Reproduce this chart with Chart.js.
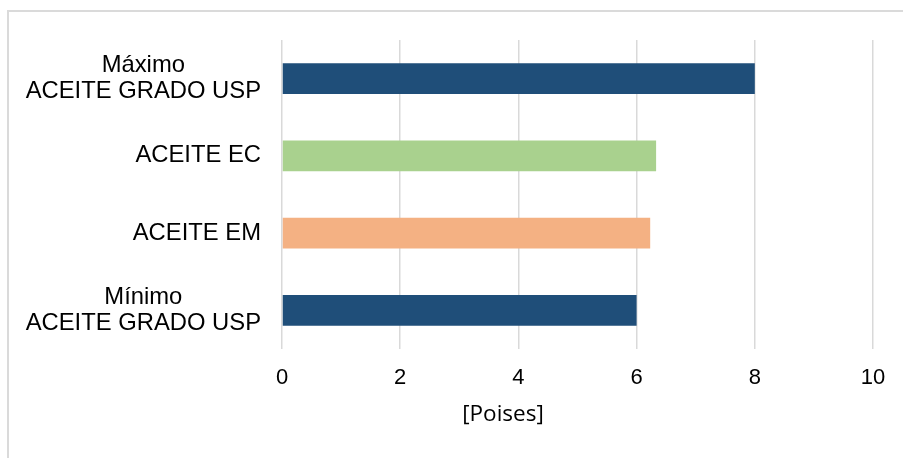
<!DOCTYPE html>
<html>
<head>
<meta charset="utf-8">
<script src="https://cdn.jsdelivr.net/npm/chart.js@4"></script>
<style>
  html, body { margin: 0; padding: 0; background: #fff; overflow: hidden; }
  #wrap { position: relative; width: 903px; height: 458px; }
  #frame { position: absolute; left: 7px; top: 10px; width: 1200px; height: 1200px;
           border-left: 2px solid #dadada; border-top: 2px solid #dadada; box-sizing: border-box; }
  canvas { position: absolute; left: 0; top: 0; }
</style>
</head>
<body>
<div id="wrap">
  <div id="frame"></div>
  <canvas id="c" width="903" height="458"></canvas>
</div>
<script>
const categories = [
  ["Máximo", "ACEITE GRADO USP"],
  ["ACEITE EC"],
  ["ACEITE EM"],
  ["Mínimo", "ACEITE GRADO USP"]
];
const values = [8.0, 6.33, 6.23, 6.0];
const barColors = ["#1F4E79", "#A9D18E", "#F4B183", "#1F4E79"];
const xTicks = [0, 2, 4, 6, 8, 10];
const axisTitle = "[Poises]";

const labelPlugin = {
  id: "catLabels",
  afterDraw(chart) {
    const ctx = chart.ctx;
    const y = chart.scales.y;
    const rightEdge = 261;
    const lh = 26.6;
    ctx.save();
    ctx.font = '23.8px "Liberation Sans", Arial, sans-serif';
    ctx.fillStyle = "#000";
    ctx.textAlign = "center";
    ctx.textBaseline = "middle";
    categories.forEach((lines, i) => {
      const cy = y.getPixelForValue(i);
      const maxW = Math.max(...lines.map(l => ctx.measureText(l).width));
      const cx = rightEdge - maxW / 2;
      const startY = cy - (lines.length - 1) * lh / 2;
      lines.forEach((l, j) => ctx.fillText(l, cx, startY + j * lh));
    });
    // axis title
    ctx.font = '22.5px "Open Sans", sans-serif';
    ctx.fillText(axisTitle, 503, 415);
    ctx.restore();
  }
};

new Chart(document.getElementById("c"), {
  type: "bar",
  data: {
    labels: categories.map(c => c.join(" ")),
    datasets: [{
      data: values,
      backgroundColor: barColors,
      borderWidth: 0,
      barPercentage: 0.4,
      categoryPercentage: 1.0
    }]
  },
  options: {
    indexAxis: "y",
    responsive: false,
    animation: false,
    devicePixelRatio: 1,
    layout: { padding: { left: 282, right: 30, top: 40, bottom: 0 } },
    plugins: { legend: { display: false }, tooltip: { enabled: false } },
    scales: {
      x: {
        min: 0, max: 10,
        afterBuildTicks(s) { s.ticks = xTicks.map(v => ({ value: v })); },
        afterFit(s) { s.height = 109; },
        grid: { color: "#d9d9d9", lineWidth: 1.5, drawTicks: false },
        border: { display: false },
        ticks: {
          padding: 16,
          color: "#000",
          font: { family: '"Liberation Sans", Arial, sans-serif', size: 22 }
        }
      },
      y: {
        display: false
      }
    }
  },
  plugins: [labelPlugin]
});
</script>
</body>
</html>
